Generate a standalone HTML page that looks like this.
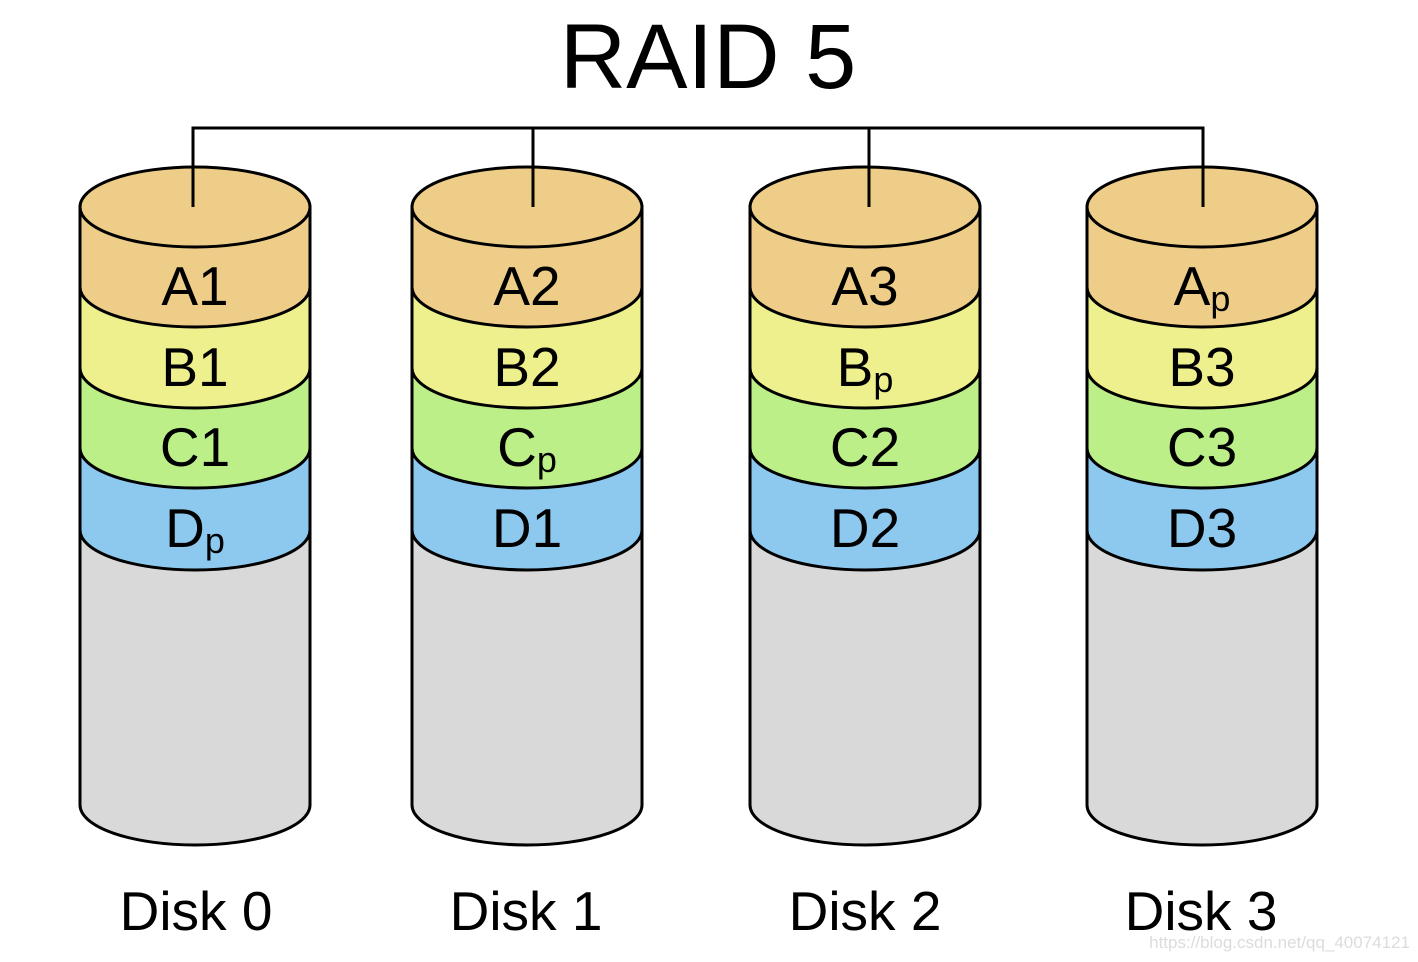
<!DOCTYPE html>
<html><head><style>html,body{margin:0;padding:0;background:#fff;}svg{display:block;}</style></head>
<body>
<svg width="1418" height="962" viewBox="0 0 1418 962" xmlns="http://www.w3.org/2000/svg" font-family="Liberation Sans, sans-serif">
<rect width="1418" height="962" fill="#fff"/>
<text x="708" y="88" font-size="92" text-anchor="middle" fill="#000">RAID 5</text>
<g stroke="#000" stroke-width="3">
<!-- Disk 0 -->
<path d="M80,207 L80,805 A115,40 0 0 0 310,805 L310,207 Z" fill="#d9d9d9"/>
<path d="M80,207 L80,530 A115,40 0 0 0 310,530 L310,207 Z" fill="#8dc9ee"/>
<path d="M80,207 L80,448 A115,40 0 0 0 310,448 L310,207 Z" fill="#bdef88"/>
<path d="M80,207 L80,368 A115,40 0 0 0 310,368 L310,207 Z" fill="#eef08d"/>
<path d="M80,207 L80,287 A115,40 0 0 0 310,287 L310,207 Z" fill="#eecd88"/>
<ellipse cx="195" cy="207" rx="115" ry="40" fill="#eecd88"/>
<!-- Disk 1 -->
<path d="M412,207 L412,805 A115,40 0 0 0 642,805 L642,207 Z" fill="#d9d9d9"/>
<path d="M412,207 L412,530 A115,40 0 0 0 642,530 L642,207 Z" fill="#8dc9ee"/>
<path d="M412,207 L412,448 A115,40 0 0 0 642,448 L642,207 Z" fill="#bdef88"/>
<path d="M412,207 L412,368 A115,40 0 0 0 642,368 L642,207 Z" fill="#eef08d"/>
<path d="M412,207 L412,287 A115,40 0 0 0 642,287 L642,207 Z" fill="#eecd88"/>
<ellipse cx="527" cy="207" rx="115" ry="40" fill="#eecd88"/>
<!-- Disk 2 -->
<path d="M750,207 L750,805 A115,40 0 0 0 980,805 L980,207 Z" fill="#d9d9d9"/>
<path d="M750,207 L750,530 A115,40 0 0 0 980,530 L980,207 Z" fill="#8dc9ee"/>
<path d="M750,207 L750,448 A115,40 0 0 0 980,448 L980,207 Z" fill="#bdef88"/>
<path d="M750,207 L750,368 A115,40 0 0 0 980,368 L980,207 Z" fill="#eef08d"/>
<path d="M750,207 L750,287 A115,40 0 0 0 980,287 L980,207 Z" fill="#eecd88"/>
<ellipse cx="865" cy="207" rx="115" ry="40" fill="#eecd88"/>
<!-- Disk 3 -->
<path d="M1087,207 L1087,805 A115,40 0 0 0 1317,805 L1317,207 Z" fill="#d9d9d9"/>
<path d="M1087,207 L1087,530 A115,40 0 0 0 1317,530 L1317,207 Z" fill="#8dc9ee"/>
<path d="M1087,207 L1087,448 A115,40 0 0 0 1317,448 L1317,207 Z" fill="#bdef88"/>
<path d="M1087,207 L1087,368 A115,40 0 0 0 1317,368 L1317,207 Z" fill="#eef08d"/>
<path d="M1087,207 L1087,287 A115,40 0 0 0 1317,287 L1317,207 Z" fill="#eecd88"/>
<ellipse cx="1202" cy="207" rx="115" ry="40" fill="#eecd88"/>
</g>
<g stroke="#000" stroke-width="3" fill="none">
<path d="M193,207 V128 H1203 V207 M533,128 V207 M869,128 V207"/>
</g>
<g font-size="55" text-anchor="middle" fill="#000">
<text x="195" y="305">A1</text><text x="195" y="386">B1</text><text x="195" y="466">C1</text><text x="195" y="547">D<tspan font-size="36" dy="6">p</tspan></text>
<text x="527" y="305">A2</text><text x="527" y="386">B2</text><text x="527" y="466">C<tspan font-size="36" dy="6">p</tspan></text><text x="527" y="547">D1</text>
<text x="865" y="305">A3</text><text x="865" y="386">B<tspan font-size="36" dy="6">p</tspan></text><text x="865" y="466">C2</text><text x="865" y="547">D2</text>
<text x="1202" y="305">A<tspan font-size="36" dy="6">p</tspan></text><text x="1202" y="386">B3</text><text x="1202" y="466">C3</text><text x="1202" y="547">D3</text>
<text x="196" y="930">Disk 0</text>
<text x="526" y="930">Disk 1</text>
<text x="865" y="930">Disk 2</text>
<text x="1201" y="930">Disk 3</text>
</g>
<text x="1410" y="948" font-size="17" text-anchor="end" fill="#dcdcdc">https://blog.csdn.net/qq_40074121</text>
</svg>
</body></html>
